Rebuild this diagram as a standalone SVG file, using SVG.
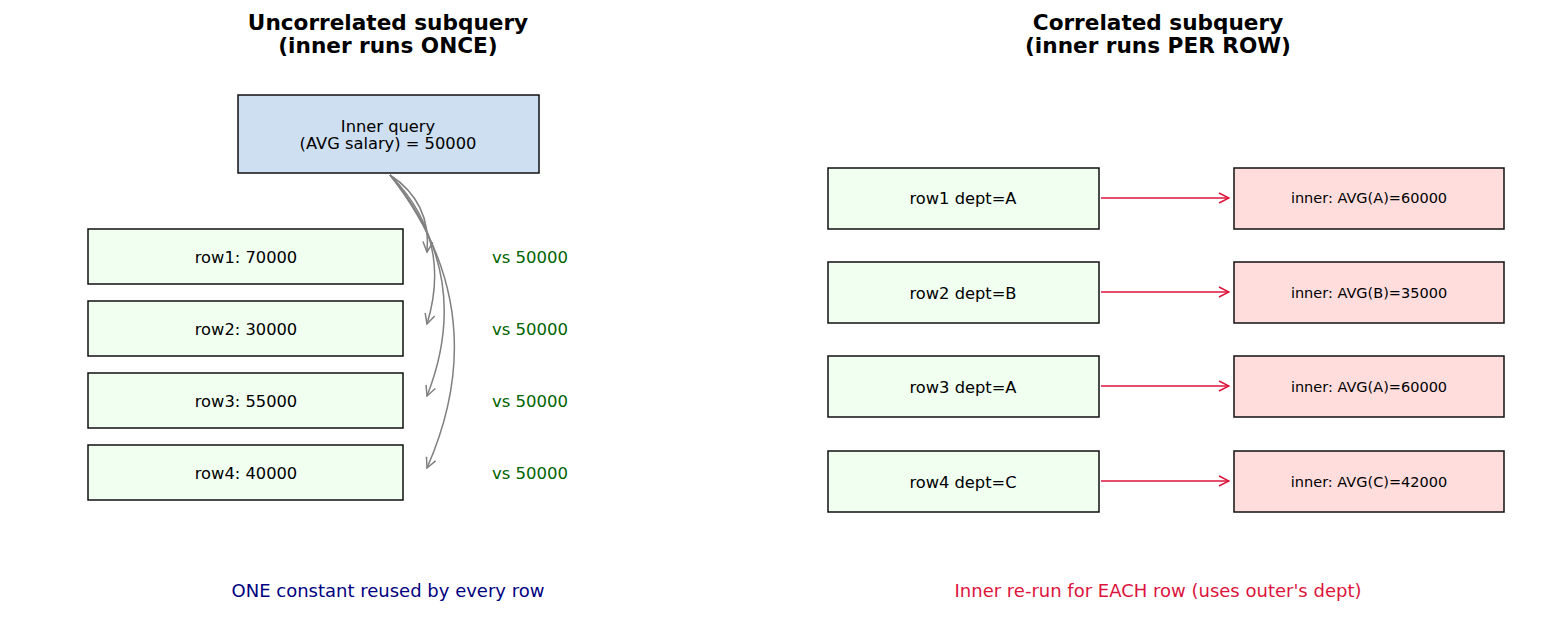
<svg xmlns="http://www.w3.org/2000/svg" width="1547" height="630" viewBox="0 0 1547 630">
<defs>
<style>
text{font-family:"DejaVu Sans","Liberation Sans",sans-serif;text-anchor:middle;dominant-baseline:central}
.title{font-size:21.6px;font-weight:bold;fill:#000}
.row{fill:#f0fff0;stroke:#111;stroke-width:1.5}
.inner{fill:#ffdddd;stroke:#111;stroke-width:1.5}
.q{fill:#cddff0;stroke:#111;stroke-width:1.5}
.t{font-size:16.3px;fill:#000}
.ts{font-size:14.5px;fill:#000}
.vs{font-size:16.5px;fill:#006400}
.g{fill:none;stroke:#808080;stroke-width:1.5}
.r{fill:none;stroke:#dc143c;stroke-width:1.5}
.b{font-size:18px}
</style>
<marker id="ag" viewBox="0 0 12 12" refX="11" refY="6" markerWidth="12" markerHeight="12" markerUnits="userSpaceOnUse" orient="auto"><path d="M1,1 L11,6 L1,11" fill="none" stroke="#808080" stroke-width="1.5"/></marker>
<marker id="ar" viewBox="0 0 12 12" refX="11" refY="6" markerWidth="12" markerHeight="12" markerUnits="userSpaceOnUse" orient="auto"><path d="M1,1 L11,6 L1,11" fill="none" stroke="#dc143c" stroke-width="1.5"/></marker>
</defs>
<rect width="1547" height="630" fill="#fff"/>
<text class="title" x="388" y="22">Uncorrelated subquery</text>
<text class="title" x="388" y="45">(inner runs ONCE)</text>
<text class="title" x="1158" y="22">Correlated subquery</text>
<text class="title" x="1158" y="45">(inner runs PER ROW)</text>
<g id="innerq"><rect class="q" x="238" y="95" width="301" height="78"/><text class="t" x="388" y="126">Inner query</text><text class="t" x="388" y="143">(AVG salary) = 50000</text></g>
<g id="l1"><rect class="row" x="88" y="229" width="315" height="55"/><text class="t" x="246" y="257">row1: 70000</text></g>
<g id="l2"><rect class="row" x="88" y="301" width="315" height="55"/><text class="t" x="246" y="329">row2: 30000</text></g>
<g id="l3"><rect class="row" x="88" y="373" width="315" height="55"/><text class="t" x="246" y="401">row3: 55000</text></g>
<g id="l4"><rect class="row" x="88" y="445" width="315" height="55"/><text class="t" x="246" y="473">row4: 40000</text></g>
<g id="vs"><text class="vs" x="530" y="257">vs 50000</text><text class="vs" x="530" y="329">vs 50000</text><text class="vs" x="530" y="401">vs 50000</text><text class="vs" x="530" y="473">vs 50000</text></g>
<g id="r1"><rect class="row" x="828" y="168" width="271" height="61"/><text class="t" x="963" y="198">row1 dept=A</text></g>
<g id="r2"><rect class="row" x="828" y="262" width="271" height="61"/><text class="t" x="963" y="293">row2 dept=B</text></g>
<g id="r3"><rect class="row" x="828" y="356" width="271" height="61"/><text class="t" x="963" y="387">row3 dept=A</text></g>
<g id="r4"><rect class="row" x="828" y="451" width="271" height="61"/><text class="t" x="963" y="482">row4 dept=C</text></g>
<g id="i1"><rect class="inner" x="1234" y="168" width="270" height="61"/><text class="ts" x="1369" y="198">inner: AVG(A)=60000</text></g>
<g id="i2"><rect class="inner" x="1234" y="262" width="270" height="61"/><text class="ts" x="1369" y="293">inner: AVG(B)=35000</text></g>
<g id="i3"><rect class="inner" x="1234" y="356" width="270" height="61"/><text class="ts" x="1369" y="387">inner: AVG(A)=60000</text></g>
<g id="i4"><rect class="inner" x="1234" y="451" width="270" height="61"/><text class="ts" x="1369" y="482">inner: AVG(C)=42000</text></g>
<g id="connectors">
<path class="g" d="M390,175 Q431.6,202.4 427,252" marker-end="url(#ag)"/>
<path class="g" d="M390,175 Q453.2,238.4 427,324" marker-end="url(#ag)"/>
<path class="g" d="M390,175 Q474.8,274.4 427,396" marker-end="url(#ag)"/>
<path class="g" d="M390,175 Q496.4,310.4 427,468" marker-end="url(#ag)"/>
<path class="r" d="M1101,198 L1229,198" marker-end="url(#ar)"/>
<path class="r" d="M1101,292 L1229,292" marker-end="url(#ar)"/>
<path class="r" d="M1101,386 L1229,386" marker-end="url(#ar)"/>
<path class="r" d="M1101,481 L1229,481" marker-end="url(#ar)"/>
</g>
<text class="b" x="388" y="590" style="fill:#000080">ONE constant reused by every row</text>
<text class="b" x="1158" y="590" style="fill:#dc143c">Inner re-run for EACH row (uses outer's dept)</text>
</svg>
